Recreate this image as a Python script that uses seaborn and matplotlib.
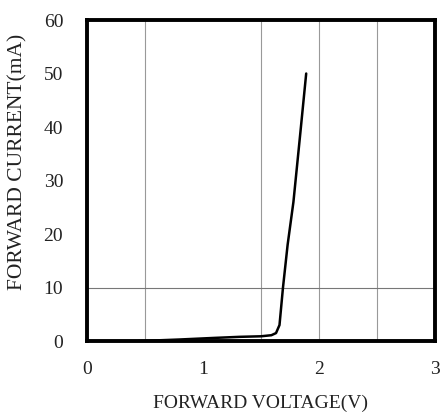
import matplotlib
matplotlib.use("Agg")
import matplotlib.pyplot as plt
import seaborn as sns
import pandas as pd

# Forward voltage (V) vs forward current (mA)
voltage = [0.44, 0.80, 1.10, 1.32, 1.50, 1.59, 1.63, 1.66, 1.69, 1.73, 1.78, 1.84, 1.89]
current = [0.0, 0.3, 0.6, 0.8, 0.9, 1.1, 1.5, 3.0, 10.0, 18.0, 26.0, 39.0, 50.0]

x_ticks = [0, 1, 2, 3]
y_ticks = [0, 10, 20, 30, 40, 50, 60]
x_grid = [0.5, 1.5, 2.0, 2.5]
y_grid = [10]

df = pd.DataFrame({"V": voltage, "I": current})

sns.set_style("white")
plt.rcParams["font.family"] = ["Liberation Serif", "DejaVu Serif"]

fig = plt.figure(figsize=(4.43, 4.17), dpi=100)
ax = fig.add_axes([0.196, 0.182, 0.786, 0.770])

for g in x_grid:
    ax.axvline(g, color="#999999", lw=0.8, zorder=0)
for g in y_grid:
    ax.axhline(g, color="#777777", lw=0.8, zorder=0)

sns.lineplot(data=df, x="V", y="I", ax=ax, color="black", lw=1.8, sort=False)

ax.set_xlim(0, 3)
ax.set_ylim(0, 60)
ax.set_xticks(x_ticks)
ax.set_yticks(y_ticks)
ax.tick_params(length=0, labelsize=14, colors="#222222")
ax.tick_params(axis="x", pad=14)
ax.tick_params(axis="y", pad=17)
ax.set_xlabel("FORWARD VOLTAGE(V)", fontsize=14, labelpad=12, color="#222222")
ax.set_ylabel("FORWARD CURRENT(mA)", fontsize=15.5, color="#222222")
ax.yaxis.set_label_coords(-0.17, 0.557)

for s in ax.spines.values():
    s.set_visible(True)
    s.set_color("black")
    s.set_linewidth(2.8)

fig.savefig("out.png", dpi=100)
